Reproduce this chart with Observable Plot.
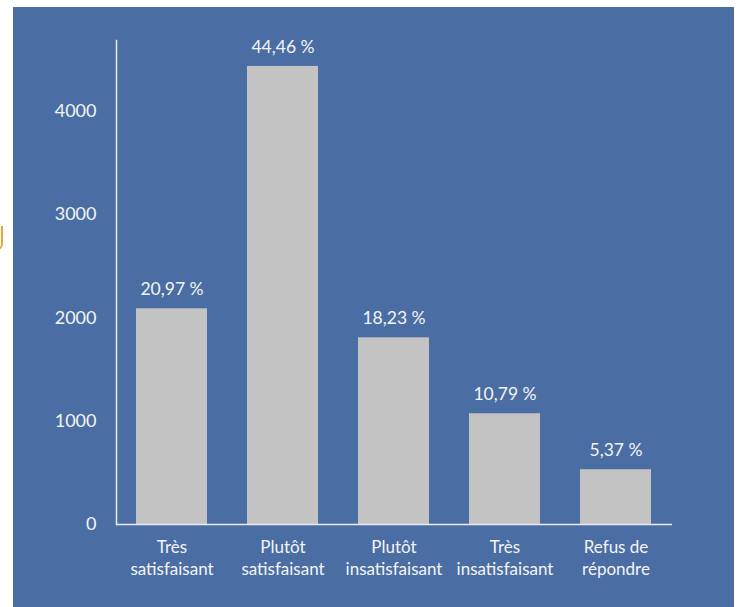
<!DOCTYPE html>
<html>
<head>
<meta charset="utf-8">
<script src="https://cdn.jsdelivr.net/npm/d3@7"></script>
<script src="https://cdn.jsdelivr.net/npm/@observablehq/plot@0.6"></script>
<style>
  html, body { margin: 0; padding: 0; background: #ffffff; }
  #wrap { position: relative; width: 738px; height: 607px; overflow: hidden; font-family: Lato, "Open Sans", sans-serif; }
  #panel { position: absolute; left: 13px; top: 7px; width: 721px; height: 600px; background: #4a6ea4; }
  #mark { position: absolute; left: -4px; top: 226px; width: 7px; height: 24px; border: 2px solid #f0a22e; border-left: none; border-top: none; border-radius: 0 0 6px 0; box-sizing: border-box; }
  #chart { position: absolute; left: 0; top: 0; }
</style>
</head>
<body>
<div id="wrap">
  <div id="panel"></div>
  <div id="mark"></div>
  <div id="chart"></div>
</div>
<script>
const categories = ["Très\nsatisfaisant", "Plutôt\nsatisfaisant", "Plutôt\ninsatisfaisant", "Très\ninsatisfaisant", "Refus de\nrépondre"];
const counts = [2088, 4434, 1807, 1072, 530];
const percentLabels = ["20,97 %", "44,46 %", "18,23 %", "10,79 %", "5,37 %"];
const yTicks = [0, 1000, 2000, 3000, 4000];

const data = categories.map((c, i) => ({cat: c, value: counts[i], label: percentLabels[i]}));

const chart = Plot.plot({
  width: 738,
  height: 607,
  marginLeft: 116,
  marginRight: 66,
  marginTop: 40,
  marginBottom: 83,
  style: {background: "transparent", fontFamily: "Lato, 'Open Sans', sans-serif", color: "#f2f2f2"},
  x: {domain: categories, paddingInner: 0.36, paddingOuter: 0.18, label: null},
  y: {domain: [0, 4685], label: null},
  marks: [
    Plot.barY(data, {x: "cat", y: "value", fill: "#c3c3c3"}),
    Plot.text(data, {x: "cat", y: "value", text: "label", dy: -19, fill: "#f4f4f4", fontSize: 17.5}),
    Plot.axisY({ticks: yTicks, tickFormat: d => String(d), tickSize: 0, tickPadding: 20, fontSize: 18, fill: "#f4f4f4", label: null}),
    Plot.axisX({tickSize: 0, tickPadding: 13, fontSize: 17, lineHeight: 1.3, fill: "#f4f4f4", label: null}),
    Plot.frame({anchor: "left", stroke: "#e8ecf2", strokeWidth: 1.5}),
    Plot.ruleY([0], {stroke: "#e8ecf2", strokeWidth: 1.5})
  ]
});
document.getElementById("chart").appendChild(chart);
</script>
</body>
</html>
